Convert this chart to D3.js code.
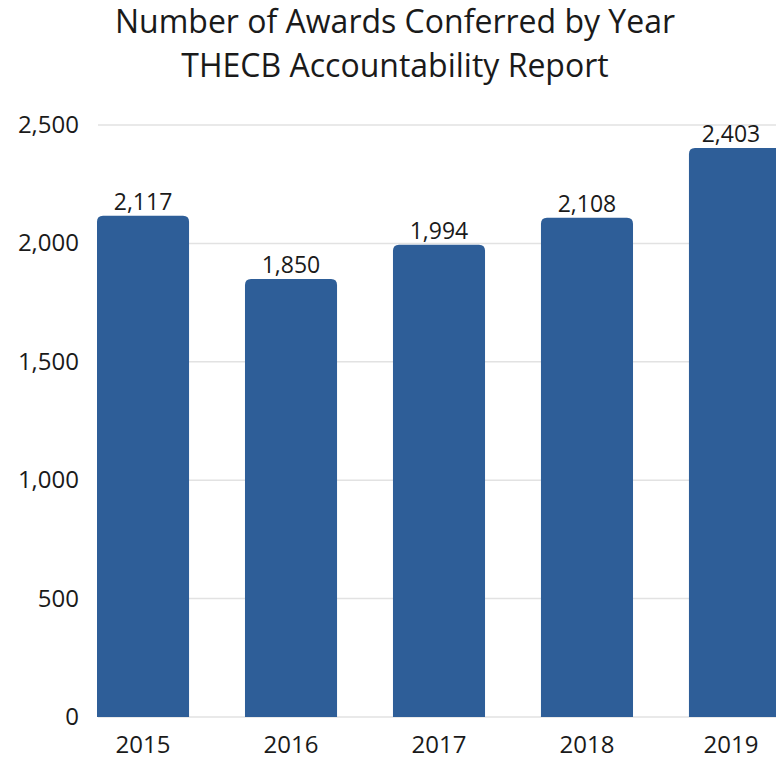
<!DOCTYPE html>
<html>
<head>
<meta charset="utf-8">
<script src="https://cdn.jsdelivr.net/npm/d3@7"></script>
<style>
  body { margin: 0; background: #fff; }
  svg { display: block; font-family: "Open Sans", sans-serif; }
</style>
</head>
<body>
<div id="chart"></div>
<script>
var years = ['2015', '2016', '2017', '2018', '2019'];
var awards = [2117, 1850, 1994, 2108, 2403];
var yTicks = [0, 500, 1000, 1500, 2000, 2500];
var titleLines = ['Number of Awards Conferred by Year', 'THECB Accountability Report'];

var width = 776, height = 759;
var barColor = '#2e5e98';

var svg = d3.select('#chart').append('svg')
  .attr('width', width)
  .attr('height', height);

// title
svg.selectAll('text.title')
  .data(titleLines)
  .enter().append('text')
  .attr('class', 'title')
  .attr('x', 395)
  .attr('y', (d, i) => 33 + i * 44)
  .attr('text-anchor', 'middle')
  .style('font-size', '32px')
  .style('fill', '#1a1a1a')
  .text(d => d);

var x = d3.scaleBand()
  .domain(years)
  .range([97, 781])
  .paddingInner(0.378)
  .paddingOuter(0);

var y = d3.scaleLinear()
  .domain([0, 2500])
  .range([717, 125]);

// gridlines
svg.append('g')
  .selectAll('line')
  .data(yTicks)
  .enter().append('line')
  .attr('x1', 98)
  .attr('x2', width)
  .attr('y1', d => y(d))
  .attr('y2', d => y(d))
  .attr('stroke', '#e2e2e2')
  .attr('stroke-width', 1.5);

// y labels
svg.append('g')
  .selectAll('text')
  .data(yTicks)
  .enter().append('text')
  .attr('x', 79)
  .attr('y', d => y(d) + 8)
  .attr('text-anchor', 'end')
  .style('font-size', '24px')
  .style('fill', '#1a1a1a')
  .text(d => d3.format(',')(d));

function topRounded(x0, y0, w, h, r) {
  return 'M' + x0 + ',' + (y0 + h) +
    'V' + (y0 + r) +
    'Q' + x0 + ',' + y0 + ' ' + (x0 + r) + ',' + y0 +
    'H' + (x0 + w - r) +
    'Q' + (x0 + w) + ',' + y0 + ' ' + (x0 + w) + ',' + (y0 + r) +
    'V' + (y0 + h) + 'Z';
}

// bars
svg.append('g')
  .selectAll('path')
  .data(years)
  .enter().append('path')
  .attr('d', (d, i) => topRounded(x(d), y(awards[i]), x.bandwidth(), y(0) - y(awards[i]), 6))
  .attr('fill', barColor);

// value labels
svg.append('g')
  .selectAll('text')
  .data(years)
  .enter().append('text')
  .attr('x', (d, i) => i == 4 ? 731 : x(d) + x.bandwidth() / 2)
  .attr('y', (d, i) => y(awards[i]) - 6)
  .attr('text-anchor', 'middle')
  .style('font-size', '23px')
  .style('fill', '#1a1a1a')
  .text((d, i) => d3.format(',')(awards[i]));

// x labels
svg.append('g')
  .selectAll('text')
  .data(years)
  .enter().append('text')
  .attr('x', (d, i) => i == 4 ? 731 : x(d) + x.bandwidth() / 2)
  .attr('y', 753)
  .attr('text-anchor', 'middle')
  .style('font-size', '24px')
  .style('fill', '#1a1a1a')
  .text(d => d);
</script>
</body>
</html>
